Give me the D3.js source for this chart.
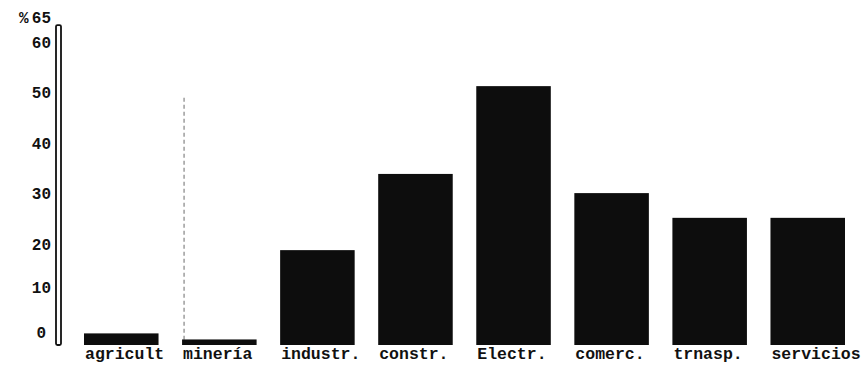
<!DOCTYPE html>
<html>
<head>
<meta charset="utf-8">
<script src="https://cdn.jsdelivr.net/npm/d3@7"></script>
<style>
  html, body { margin: 0; padding: 0; background: #fff; }
  svg { display: block; }
  text { font-family: "Liberation Mono", "DejaVu Sans Mono", monospace; font-weight: bold; fill: #111; }
</style>
</head>
<body>
<svg id="chart" width="864" height="375"></svg>
<script>
// Sectors and their percentage values
const sectors = ["agricult", "minería", "industr.", "constr.", "Electr.", "comerc.", "trnasp.", "servicios"];
const values = [2.3, 1.1, 18.8, 33.9, 51.3, 30.1, 25.2, 25.2];
const tickValues = [0, 10, 20, 30, 40, 50, 60];
const axisTop = 65;
const unitLabel = "%";

const svg = d3.select("#chart");

const y = d3.scaleLinear().domain([0, axisTop]).range([345, 17]);
const x = d3.scaleBand().domain(sectors).range([84, 845]).paddingInner(0.24).paddingOuter(0);

// Faint pencil guide next to the minería column
svg.append("line")
  .attr("x1", x("minería") + 2).attr("x2", x("minería") + 2)
  .attr("y1", y(49)).attr("y2", y(0))
  .attr("stroke", "#333").attr("stroke-width", 1.2)
  .attr("stroke-dasharray", "4,3").attr("opacity", 0.6);

// Bars
svg.append("g").selectAll("rect")
  .data(sectors)
  .join("rect")
  .attr("x", d => x(d))
  .attr("width", x.bandwidth())
  .attr("y", (d, i) => y(values[i]))
  .attr("height", (d, i) => y(0) - y(values[i]))
  .attr("fill", "#0d0d0d");

// Category labels, typed under each column
svg.append("g").selectAll("text")
  .data(sectors)
  .join("text")
  .attr("x", d => x(d) + 1)
  .attr("y", y(0) + 14)
  .attr("font-size", 16.5)
  .text(d => d);

// Vertical axis drawn as a narrow double-ruled column
const axisG = svg.append("g").attr("transform", "translate(51,0)");
const yAxis = d3.axisLeft(y).tickValues(tickValues).tickSize(0).tickPadding(0);
axisG.call(yAxis);
axisG.select(".domain").remove();
axisG.selectAll(".tick text")
  .attr("font-family", "'Liberation Mono', monospace")
  .attr("font-weight", "bold")
  .attr("font-size", 16)
  .attr("fill", "#111")
  .attr("dx", d => d === 0 ? -5 : 0)
  .attr("dy", d => d === 0 ? "-0.45em" : (d === 10 ? "-0.15em" : "0.32em"));

svg.append("rect")
  .attr("x", 56).attr("width", 5)
  .attr("y", y(63.4)).attr("height", y(0) - y(63.4))
  .attr("rx", 1.5)
  .attr("fill", "#fff").attr("stroke", "#111").attr("stroke-width", 1.8);

// Axis heading: unit and top value
svg.append("text")
  .attr("x", 19).attr("y", y(axisTop) + 6)
  .attr("font-size", 16)
  .text(unitLabel);
svg.append("text")
  .attr("x", 51).attr("y", y(axisTop) + 6)
  .attr("text-anchor", "end")
  .attr("font-size", 16)
  .text(axisTop);
</script>
</body>
</html>
